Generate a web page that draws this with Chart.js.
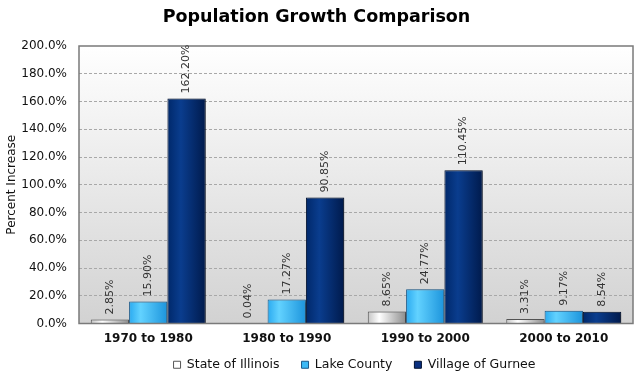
<!DOCTYPE html>
<html>
<head>
<meta charset="utf-8">
<script src="https://cdn.jsdelivr.net/npm/chart.js@4/dist/chart.umd.min.js"></script>
<style>
  html, body { margin: 0; padding: 0; background: #fff; }
  #wrap { width: 635px; height: 375px; }
</style>
</head>
<body>
<div id="wrap"><canvas id="chart"></canvas></div>
<script>
// data
const periods = ['1970 to 1980', '1980 to 1990', '1990 to 2000', '2000 to 2010'];
const illinois = [2.85, 0.04, 8.65, 3.31];
const lakeCounty = [15.90, 17.27, 24.77, 9.17];
const gurnee = [162.20, 90.85, 110.45, 8.54];
const yTicks = [0, 20, 40, 60, 80, 100, 120, 140, 160, 180, 200];

// gradient stops for each series (left -> right across a bar)
const barStops = [
    [[0, '#c4c4c4'], [0.3, '#ffffff'], [1, '#8c8c8c']],
    [[0, '#2aaaf0'], [0.3, '#62d2ff'], [1, '#1c94dc']],
    [[0, '#00286a'], [0.35, '#0a3d8e'], [1, '#001a4c']]
];

// plot background, frame, bar gradients
const plotBox = {
    id: 'plotBox',
    afterLayout(chart) {
        // legend sits centred under the plot area, a bit higher
        const lg = chart.legend;
        lg.left += 38; lg.right += 38;
        lg.top -= 9; lg.bottom -= 9;
    },
    beforeDraw(chart) {
        const {ctx, chartArea: a} = chart;
        const g = ctx.createLinearGradient(0, a.top, 0, a.bottom);
        g.addColorStop(0, '#ffffff');
        g.addColorStop(1, '#d2d2d2');
        ctx.save();
        ctx.fillStyle = g;
        ctx.fillRect(a.left, a.top, a.right - a.left, a.bottom - a.top);
        ctx.restore();
    },
    beforeDatasetsDraw(chart) {
        const ctx = chart.ctx;
        ctx.save();
        ctx.shadowColor = 'rgba(0,0,0,0.35)';
        ctx.shadowOffsetX = 2;
        ctx.shadowOffsetY = 1;
        ctx.shadowBlur = 2;
        chart.data.datasets.forEach((ds, i) => {
            chart.getDatasetMeta(i).data.forEach(el => {
                const g = ctx.createLinearGradient(el.x - el.width / 2, 0, el.x + el.width / 2, 0);
                barStops[i].forEach(s => g.addColorStop(s[0], s[1]));
                el.options.backgroundColor = g;
            });
        });
    },
    afterDatasetsDraw(chart) {
        chart.ctx.restore();
    },
    afterDraw(chart) {
        const {ctx, chartArea: a} = chart;
        ctx.save();
        ctx.strokeStyle = '#7a7a7a';
        ctx.lineWidth = 1.5;
        ctx.strokeRect(a.left, a.top, a.right - a.left, a.bottom - a.top);
        ctx.restore();
    }
};

// rotated value labels above bars
const valueLabels = {
    id: 'valueLabels',
    afterDraw(chart) {
        const ctx = chart.ctx;
        ctx.save();
        ctx.font = '11px "DejaVu Sans"';
        ctx.fillStyle = '#333';
        ctx.textAlign = 'left';
        ctx.textBaseline = 'middle';
        chart.data.datasets.forEach((ds, i) => {
            chart.getDatasetMeta(i).data.forEach((el, j) => {
                ctx.save();
                ctx.translate(el.x, el.y - 5);
                ctx.rotate(-Math.PI / 2);
                ctx.fillText(ds.data[j].toFixed(2) + '%', 0, 0);
                ctx.restore();
            });
        });
        ctx.restore();
    }
};

// scriptable colours so every bar keeps its own options object
const solid = c => () => c;

new Chart(document.getElementById('chart'), {
    type: 'bar',
    data: {
        labels: periods,
        datasets: [
            {label: 'State of Illinois', data: illinois, backgroundColor: solid('#ffffff'), borderColor: '#555555'},
            {label: 'Lake County', data: lakeCounty, backgroundColor: solid('#3cbaf6'), borderColor: '#1a5a8a'},
            {label: 'Village of Gurnee', data: gurnee, backgroundColor: solid('#0a3080'), borderColor: '#00102e'}
        ]
    },
    options: {
        responsive: true,
        maintainAspectRatio: false,
        animation: false,
        layout: {padding: {left: 0, right: 2, top: 0, bottom: -15}},
        datasets: {
            bar: {borderWidth: 1, categoryPercentage: 0.83, barPercentage: 1.0}
        },
        plugins: {
            title: {
                display: true,
                text: 'Population Growth Comparison',
                color: '#000',
                font: {family: '"DejaVu Sans"', size: 17.5, weight: 'bold'},
                padding: {top: 7, bottom: 18}
            },
            legend: {
                position: 'bottom',
                labels: {
                    color: '#111',
                    font: {family: '"DejaVu Sans"', size: 12.5},
                    boxWidth: 7,
                    boxHeight: 7,
                    padding: 22
                }
            },
            tooltip: {enabled: false}
        },
        scales: {
            x: {
                grid: {display: false, tickLength: 0},
                border: {display: false},
                afterFit: axis => { axis.height = 22; },
                ticks: {
                    color: '#111',
                    font: {family: '"DejaVu Sans"', size: 12, weight: 'bold'},
                    padding: 8
                }
            },
            y: {
                min: 0,
                max: 200,
                afterBuildTicks: axis => { axis.ticks = yTicks.map(v => ({value: v})); },
                afterFit: axis => { axis.width = 79; },
                grid: {
                    color: ctx => (ctx.tick && (ctx.tick.value === 0 || ctx.tick.value === 200)) ? 'rgba(0,0,0,0)' : '#a8a8a8',
                    tickLength: 0
                },
                border: {display: false, dash: [3, 2]},
                ticks: {
                    color: '#111',
                    font: {family: '"DejaVu Sans"', size: 12},
                    padding: 12,
                    callback: v => v.toFixed(1) + '%'
                },
                title: {
                    display: true,
                    text: 'Percent Increase',
                    color: '#111',
                    font: {family: '"DejaVu Sans"', size: 12},
                    padding: {top: 5, bottom: 0}
                }
            }
        }
    },
    plugins: [plotBox, valueLabels]
});
</script>
</body>
</html>
